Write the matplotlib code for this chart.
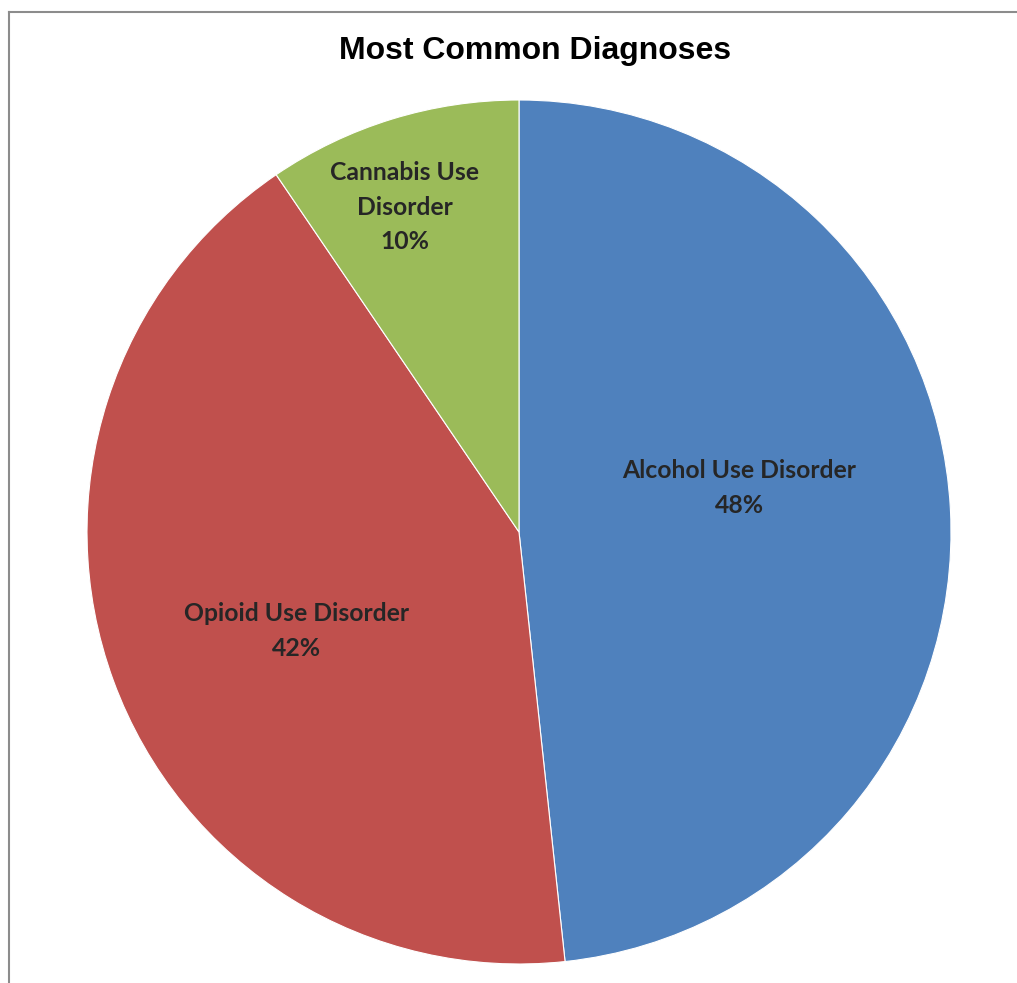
import matplotlib

matplotlib.use('Agg')

import matplotlib.pyplot as plt
from matplotlib.lines import Line2D

W, H = 1017, 983

categories = ['Alcohol Use Disorder', 'Opioid Use Disorder', 'Cannabis Use\nDisorder']
shares = [48.3, 42.2, 9.5]
pct_labels = ['48%', '42%', '10%']
colors = ['#4F81BD', '#C0504D', '#9BBB59']

# label centres in pie units (radius 1)
label_pos = [(0.51, 0.102), (-0.516, -0.229), (-0.264, 0.752)]

fig = plt.figure(figsize=(W / 100, H / 100), dpi=100)

# chart area frame (only top and left edges visible)
fig.add_artist(Line2D([9 / W, 9 / W], [0, 1 - 12 / H], color='#8c8c8c', lw=1.5))
fig.add_artist(Line2D([9 / W, 1], [1 - 12 / H, 1 - 12 / H], color='#8c8c8c', lw=1.5))

cx, cy, r = 519, 532, 432
ax = fig.add_axes([(cx - r) / W, (H - cy - r) / H, 2 * r / W, 2 * r / H])
ax.pie(shares, colors=colors, startangle=90, counterclock=False, radius=1,
       wedgeprops=dict(edgecolor='white', linewidth=0.8))
ax.set_xlim(-1, 1)
ax.set_ylim(-1, 1)
ax.set_aspect('equal')
ax.axis('off')

for name, pct, (x, y) in zip(categories, pct_labels, label_pos):
    ax.text(x, y, f'{name}\n{pct}', ha='center', va='center', fontsize=17.8,
            fontweight='bold', family='Lato', color='#262626', linespacing=1.6)

fig.text(535 / W, 1 - 51 / H, 'Most Common Diagnoses', ha='center', va='center',
         fontsize=23, fontweight='bold', family='Liberation Sans', color='#000000')

fig.savefig('out.png', dpi=100)
